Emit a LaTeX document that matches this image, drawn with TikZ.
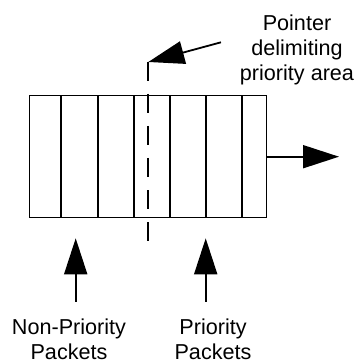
\documentclass[tikz,border=0pt]{standalone}
\usepackage{fontspec}
\setmainfont{Liberation Sans}
\usetikzlibrary{arrows.meta}
\begin{document}
\begin{tikzpicture}[x=1pt,y=-1pt,
  lbl/.style={align=center, inner sep=0pt, anchor=north, font=\fontsize{21.6}{25}\selectfont},
  bigarrow/.style={line width=1.8pt, -{Triangle[length=36pt,width=23pt]}},
  divider/.style={line width=2pt},
  queuebox/.style={draw, line width=1pt, minimum width=237.8pt, minimum height=122.3pt, inner sep=0pt, outer sep=0pt}]
\useasboundingbox (0,0) rectangle (358,363);
\node[queuebox] (queue) at (147.9,156.7) {};
\foreach \x in {61.3,97.7,134.2,170,206.3,242.3}
  \draw[divider] (\x,0 |- queue.north) -- (\x,0 |- queue.south);
\coordinate (ptail) at (221,42.3);
\coordinate (ptip) at (148.3,62);
\coordinate (pend) at (148.3,243.3);
\draw[divider, dash pattern=on 19pt off 13pt] (ptip) -- (pend);
\draw[bigarrow] (ptail) -- (ptip);
\coordinate (out) at (339,156.7);
\draw[bigarrow] (queue.east) -- (out);
\coordinate (npbot) at (75.7,301.7);
\coordinate (nptop) at (75.7,238.3);
\coordinate (ppbot) at (205.7,301.7);
\coordinate (pptop) at (205.7,238.3);
\draw[bigarrow] (npbot) -- (nptop);
\draw[bigarrow] (ppbot) -- (pptop);
\node[lbl] (ptr) at (297,15) {Pointer\\delimiting\\priority area};
\node[lbl] (np) at (69,318.5) {Non-Priority\\Packets};
\node[lbl] (pp) at (213,318.5) {Priority\\Packets};
\end{tikzpicture}
\end{document}
